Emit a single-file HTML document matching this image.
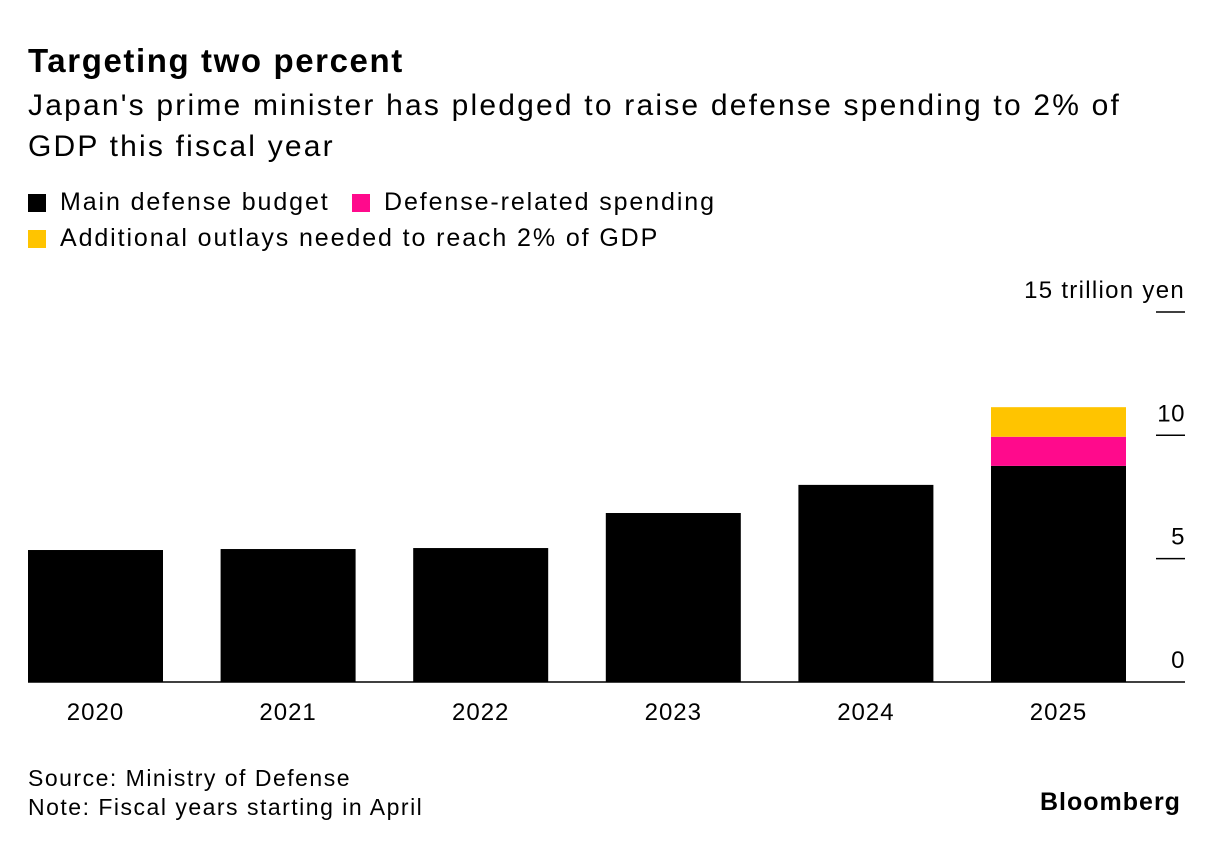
<!DOCTYPE html>
<html><head><meta charset="utf-8">
<style>
body{margin:0;background:#fff;font-family:"Liberation Sans",sans-serif;color:#000;}
.t{position:absolute;white-space:nowrap;}
</style></head>
<body>
<div style="position:relative;width:1219px;height:846px;overflow:hidden">
<div class="t" style="left:28px;top:42px;font-size:33px;font-weight:bold;letter-spacing:1.6px">Targeting two percent</div>
<div class="t" style="left:28px;top:85px;font-size:30px;line-height:41px;letter-spacing:2.2px">Japan's prime minister has pledged to raise defense spending to 2% of<br>GDP this fiscal year</div>
<div class="t" style="left:28px;top:188px;font-size:25px;letter-spacing:1.9px"><span style="display:inline-block;width:18px;height:18px;background:#000;vertical-align:-2px;margin-right:14px"></span>Main defense budget</div>
<div class="t" style="left:352px;top:188px;font-size:25px;letter-spacing:1.9px"><span style="display:inline-block;width:18px;height:18px;background:#ff0a8c;vertical-align:-2px;margin-right:14px"></span>Defense-related spending</div>
<div class="t" style="left:28px;top:224px;font-size:25px;letter-spacing:1.9px"><span style="display:inline-block;width:18px;height:18px;background:#ffc400;vertical-align:-2px;margin-right:14px"></span>Additional outlays needed to reach 2% of GDP</div>
<svg id="chart" width="1219" height="846" style="position:absolute;left:0;top:0"></svg>
<div class="t" style="left:28px;top:764px;font-size:23px;line-height:29px;letter-spacing:1.5px">Source: Ministry of Defense<br>Note: Fiscal years starting in April</div>
<div class="t" style="left:1040px;top:788px;font-size:25px;font-weight:bold;letter-spacing:1px">Bloomberg</div>
</div>
<script>
const categories=["2020","2021","2022","2023","2024","2025"];
const mainBudget=[5.35,5.39,5.43,6.85,7.99,8.76];
const relatedSpending=[0,0,0,0,0,1.18];
const additionalOutlays=[0,0,0,0,0,1.2];
const ticks=[0,5,10,15];
const NS="http://www.w3.org/2000/svg";
const svg=document.getElementById('chart');
const y0=682,pxPer=24.67,x0=28,pitch=192.6,bw=135;
const y=v=>y0-v*pxPer;
const x=i=>x0+i*pitch;
function mk(t,a){const e=document.createElementNS(NS,t);for(const k in a)e.setAttribute(k,a[k]);svg.appendChild(e);return e;}
ticks.forEach(t=>{
 if(t>0){const l=mk('line',{x1:1156,x2:1185,y1:y(t),y2:y(t),stroke:'#000','stroke-width':1.5});
 
 }
 const tx=mk('text',{x:1185,y:y(t)-14,'text-anchor':'end','font-size':24,'letter-spacing':t===15?1.3:0.5,'font-family':'Liberation Sans, sans-serif'});
 tx.textContent=t===15?'15 trillion yen':String(t);
 
 
});
categories.forEach((c,i)=>{
 let base=0;
 [[mainBudget,'#000','main'],[relatedSpending,'#ff0a8c','related'],[additionalOutlays,'#ffc400','additional']].forEach(([arr,col,n])=>{
  const v=arr[i];if(v<=0)return;
  const r=mk('rect',{x:x(i),y:y(base+v),width:bw,height:v*pxPer,fill:col});
  
  
  base+=v;
 });
 const t=mk('text',{x:x(i)+bw/2,y:720,'text-anchor':'middle','font-size':24,'letter-spacing':1,'font-family':'Liberation Sans, sans-serif'});
 t.textContent=c;
 
 
});
const ax=mk('line',{x1:28,x2:1185,y1:y0,y2:y0,stroke:'#000','stroke-width':1.5});


</script>
</body></html>
